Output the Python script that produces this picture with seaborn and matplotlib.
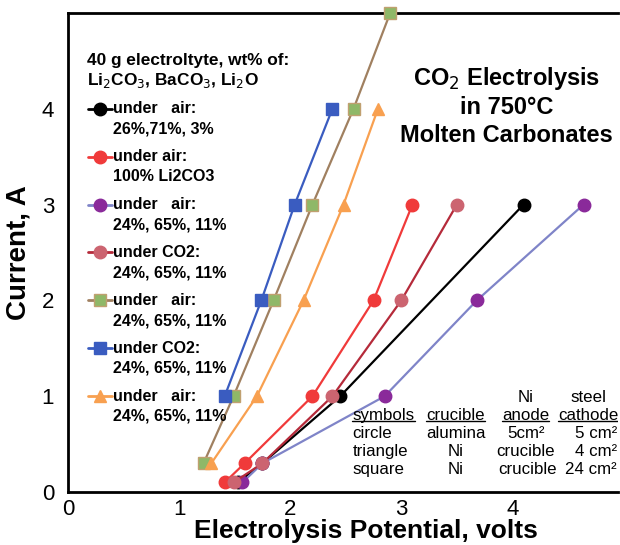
import matplotlib
matplotlib.use("Agg")
import matplotlib.pyplot as plt
import seaborn as sns
import pandas as pd

# ---- data ----
black_v = [1.53, 1.75, 2.45, 4.10]
black_i = [0.1, 0.3, 1.0, 3.0]
red_v = [1.41, 1.59, 2.20, 2.75, 3.10]
red_i = [0.1, 0.3, 1.0, 2.0, 3.0]
purple_v = [1.57, 1.75, 2.85, 3.68, 4.64]
purple_i = [0.1, 0.3, 1.0, 2.0, 3.0]
pink_v = [1.49, 1.75, 2.38, 3.00, 3.50]
pink_i = [0.1, 0.3, 1.0, 2.0, 3.0]
green_v = [1.22, 1.49, 1.85, 2.20, 2.57, 2.90]
green_i = [0.3, 1.0, 2.0, 3.0, 4.0, 5.0]
blue_v = [1.41, 1.74, 2.04, 2.38]
blue_i = [1.0, 2.0, 3.0, 4.0]
orange_v = [1.29, 1.70, 2.12, 2.48, 2.79]
orange_i = [0.3, 1.0, 2.0, 3.0, 4.0]

label_line1 = ["under   air:", "under air:", "under   air:", "under CO2:",
               "under   air:", "under CO2:", "under   air:"]
label_line2 = ["26%,71%, 3%", "100% Li2CO3", "24%, 65%, 11%", "24%, 65%, 11%",
               "24%, 65%, 11%", "24%, 65%, 11%", "24%, 65%, 11%"]

table_cols = [
    ["", "symbols", "circle", "triangle", "square"],
    ["", "crucible", "alumina", "Ni", "Ni"],
    ["Ni", "anode", "5cm²", "crucible", "crucible"],
    ["steel", "cathode", "5 cm²", "4 cm²", "24 cm²"],
]

# (line colour, marker face, marker edge, marker)
styles = [
    ("black", "black", "black", "o"),
    ("#f03a3a", "#f03a3a", "#f03a3a", "o"),
    ("#7f84c8", "#8a2a9a", "#8a2a9a", "o"),
    ("#b52a3a", "#cc6470", "#cc6470", "o"),
    ("#a08060", "#8fb868", "#c0a070", "s"),
    ("#3a5cc0", "#3a5cc0", "#3a5cc0", "s"),
    ("#f8a050", "#f8a050", "#f8a050", "^"),
]
data = [(black_v, black_i), (red_v, red_i), (purple_v, purple_i), (pink_v, pink_i),
        (green_v, green_i), (blue_v, blue_i), (orange_v, orange_i)]

sns.set_style("white")
plt.rcParams['font.family'] = ['Liberation Sans', 'DejaVu Sans']
plt.rcParams['text.color'] = 'black'
plt.rcParams['axes.labelcolor'] = 'black'

fig = plt.figure(figsize=(6.2, 5.45), dpi=100)
ax = fig.add_axes([0.1097, 0.0972, 0.887, 0.879])

for (v, i), (lc, fc, ec, m) in zip(data, styles):
    df = pd.DataFrame({"V": v, "I": i})
    sns.lineplot(data=df, x="V", y="I", ax=ax, sort=False, color=lc, lw=1.6,
                 marker=m, markersize=9, markerfacecolor=fc, markeredgecolor=ec,
                 markeredgewidth=1.0, clip_on=False, zorder=3)

ax.set_xlim(0, 4.95)
ax.set_ylim(0, 5)
ax.set_xticks([0, 1, 2, 3, 4])
ax.set_yticks([0, 1, 2, 3, 4])
ax.set_yticks([0.5, 1.5, 2.5, 3.5, 4.5], minor=True)
ax.tick_params(axis='both', which='both', direction='in', length=7, width=1.5,
               labelsize=16, colors='black')
ax.tick_params(axis='x', pad=5)
ax.tick_params(axis='y', pad=10)
for s in ax.spines.values():
    s.set_linewidth(2)
    s.set_color('black')
ax.spines['right'].set_visible(False)

ax.set_xlabel("Electrolysis Potential, volts", fontsize=19, fontweight='bold', color='black')
ax.xaxis.set_label_coords(0.542, -0.056)
ax.set_ylabel("Current, A", fontsize=20, fontweight='bold', color='black')
ax.yaxis.set_label_coords(-0.066, 0.5)

# legend (manual, handle aligned with first label line)
T = ax.transAxes
ax.text(0.034, 0.900, "40 g electroltyte, wt% of:", transform=T, ha='left',
        va='center', fontsize=12.4, fontweight='bold')
ax.text(0.034, 0.858, "Li$_2$CO$_3$, BaCO$_3$, Li$_2$O", transform=T, ha='left',
        va='center', fontsize=12.4, fontweight='bold')
for k, ((lc, fc, ec, m), l1, l2) in enumerate(zip(styles, label_line1, label_line2)):
    yy = 0.8 - 0.1 * k
    ax.plot([0.036, 0.08], [yy, yy], transform=T, color=lc, lw=2, clip_on=False)
    ax.plot([0.058], [yy], transform=T, marker=m, markersize=9, markerfacecolor=fc,
            markeredgecolor=ec, ls='none', clip_on=False)
    ax.text(0.082, yy, l1, transform=T, ha='left', va='center', fontsize=11.5,
            fontweight='bold')
    ax.text(0.082, yy - 0.042, l2, transform=T, ha='left', va='center', fontsize=11.5,
            fontweight='bold')

ax.text(3.95, 4.03, "CO$_2$ Electrolysis\nin 750°C\nMolten Carbonates",
        ha='center', va='center', fontsize=17, fontweight='bold', linespacing=1.25)

# table
row_y = [0.985, 0.80, 0.61, 0.425, 0.24]
fig.canvas.draw()
r = fig.canvas.get_renderer()
inv = ax.transData.inverted()
for c, rows in enumerate(table_cols):
    for j, txt in enumerate(rows):
        if txt == "":
            continue
        if c == 0:
            x, ha = 2.56, 'left'
        elif c == 1:
            x, ha = 3.49, 'center'
        elif c == 2:
            x, ha = 4.12, 'center'
        else:
            x, ha = (4.68, 'center') if j < 2 else (4.94, 'right')
        if c == 2 and j == 4:
            x = 4.14
        t = ax.text(x, row_y[j], txt, ha=ha, va='center', fontsize=12.2)
        if j == 1:
            bb = t.get_window_extent(r)
            (x0, y0), (x1, _) = inv.transform([(bb.x0, bb.y0), (bb.x1, bb.y0)])
            ax.plot([x0, x1], [y0 + 0.02, y0 + 0.02], color='black', lw=1)

fig.savefig("out.png", dpi=100)
